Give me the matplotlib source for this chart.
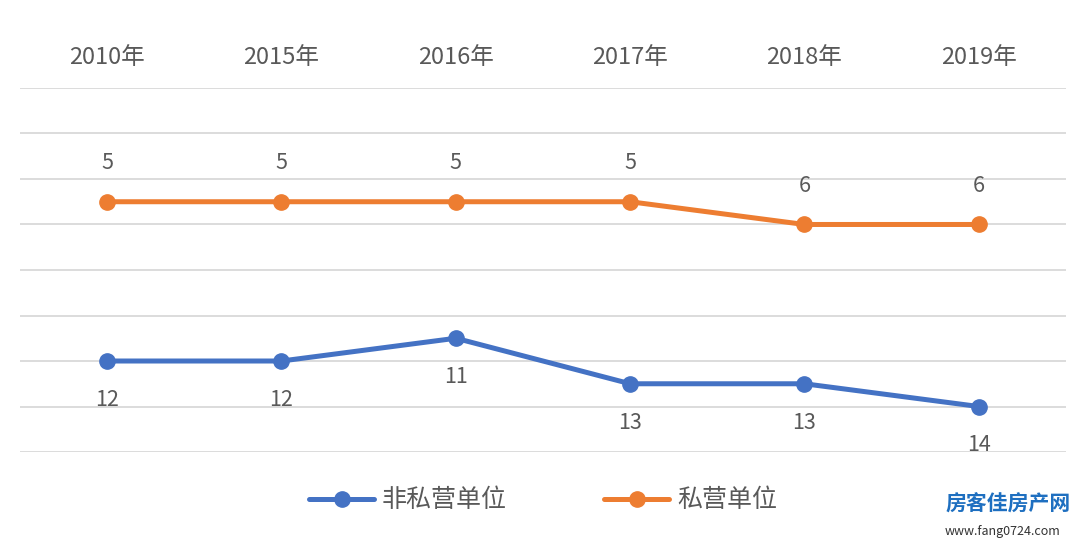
import matplotlib.pyplot as plt

plt.rcParams['font.family'] = ['Noto Sans CJK SC', 'DejaVu Sans']

# Data (rank, smaller is better -> axis inverted)
years = ['2010年', '2015年', '2016年', '2017年', '2018年', '2019年']
non_private = [12, 12, 11, 13, 13, 14]
private = [5, 5, 5, 5, 6, 6]

blue = '#4472C4'
orange = '#ED7D31'
text_color = '#595959'

fig = plt.figure(figsize=(10.8, 5.45), dpi=100)
ax = fig.add_axes([0.0185, 0.1706, 0.9685, 0.668])

x = range(len(years))
ax.plot(x, non_private, color=blue, lw=3.6, marker='o', ms=11, label='非私营单位',
        solid_capstyle='round', zorder=3)
ax.plot(x, private, color=orange, lw=3.6, marker='o', ms=11, label='私营单位',
        solid_capstyle='round', zorder=3)

for i, v in enumerate(non_private):
    ax.annotate(str(v), (i, v), xytext=(0, -28), textcoords='offset points',
                ha='center', va='center', fontsize=15.5, color=text_color)
for i, v in enumerate(private):
    ax.annotate(str(v), (i, v), xytext=(0, 28), textcoords='offset points',
                ha='center', va='center', fontsize=15.5, color=text_color)

ax.set_xlim(-0.5, len(years) - 0.5)
ax.set_ylim(16, 0)
ax.set_yticks(range(0, 17, 2))
ax.yaxis.grid(True, color='#D9D9D9', lw=1.3)
ax.set_axisbelow(True)
ax.tick_params(axis='y', left=False, labelleft=False)
ax.xaxis.tick_top()
ax.set_xticks(list(x))
ax.set_xticklabels(years, fontsize=17, color=text_color)
ax.tick_params(axis='x', length=0, pad=14)
for s in ax.spines.values():
    s.set_visible(False)

fig.legend(loc='center', bbox_to_anchor=(0.503, 0.082), ncol=2, frameon=False,
           fontsize=18, labelcolor=text_color, handlelength=2.6, columnspacing=3.9,
           handletextpad=0.3)

# watermark
fig.text(0.875, 0.075, '房客佳房产网', fontsize=15, color='#1E6FC0', weight='bold',
         ha='left', va='center')
fig.text(0.875, 0.025, 'www.fang0724.com', fontsize=9, color='#333333',
         ha='left', va='center')

fig.savefig('out.png', dpi=100)
